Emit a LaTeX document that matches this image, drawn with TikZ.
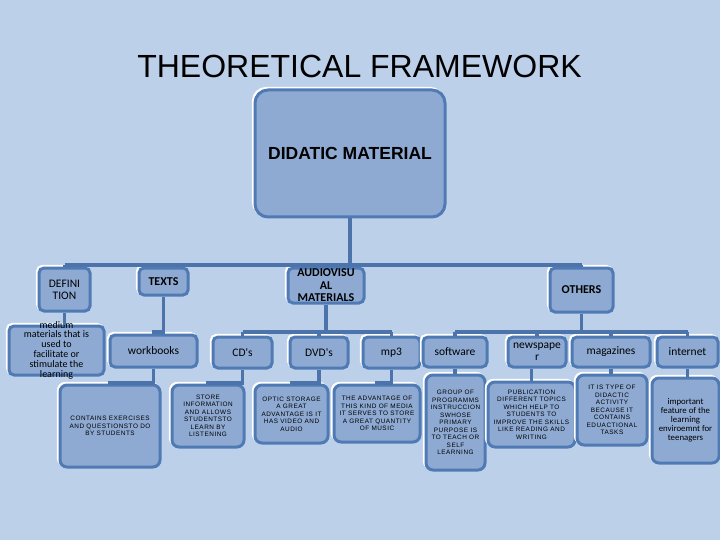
\documentclass[tikz,border=0pt]{standalone}
\usepackage{fontspec}
\setmainfont{Liberation Sans}
\newfontfamily\calfont{Carlito}
\newfontfamily\capsfont[LetterSpace=8]{Liberation Sans}

\definecolor{bgblue}{RGB}{188,208,234}
\definecolor{boxblue}{RGB}{142,170,211}
\definecolor{edgeblue}{RGB}{80,122,180}
\definecolor{linkblue}{RGB}{76,115,170}

\tikzset{
  box/.style={rectangle, rounded corners=5pt, draw=edgeblue, line width=3pt,
    fill=boxblue, inner sep=0pt, align=center,
    preaction={draw=white, line width=2.6pt, fill=none,
      transform canvas={xshift=-1.8pt, yshift=1.8pt}}},
  head/.style={box, font=\calfont\bfseries\fontsize{12}{12.5}\selectfont},
  item/.style={box, font=\calfont\fontsize{11.5}{12}\selectfont},
  caps/.style={box, rounded corners=7pt, font=\capsfont\fontsize{6.4}{7.5}\selectfont},
  note/.style={box, rounded corners=7pt, font=\calfont\fontsize{8.8}{9}\selectfont},
  link/.style={draw=linkblue, line width=3.3pt}
}

\begin{document}
\begin{tikzpicture}[x=1pt, y=-1pt]

  % --- fondo ---
  \fill[bgblue] (0,0) rectangle (720,540);
  \useasboundingbox (0,0) rectangle (720,540);

  % --- titolo ---
  \node[font=\fontsize{32}{32}\selectfont] (title) at (359.5,66) {THEORETICAL FRAMEWORK};

  % --- livelli delle barre ---
  \coordinate (lvA) at (0,265);
  \coordinate (lvB) at (0,332);
  \coordinate (lvC) at (0,383);

  % --- radice ---
  \node[box, rounded corners=13pt, minimum width=190pt, minimum height=127pt,
    font=\bfseries\fontsize{17.5}{20}\selectfont] (dm) at (350,153.5) {DIDATIC MATERIAL};

  % --- primo livello ---
  \node[item, minimum width=51pt, minimum height=43pt] (def) at (64.5,289.5) {DEFINI\\TION};
  \node[head, minimum width=49pt, minimum height=27pt] (txt) at (163.5,281.5) {TEXTS};
  \node[head, minimum width=76pt, minimum height=35pt] (av) at (326,285.5) {AUDIOVISU\\AL\\MATERIALS};
  \node[head, minimum width=63pt, minimum height=44pt] (oth) at (581.5,290) {OTHERS};

  % --- secondo livello ---
  \node[box, minimum width=81pt, minimum height=49pt, font=\calfont\fontsize{10}{9.8}\selectfont]
    (med) at (56.5,350.5)
    {\smash{\raisebox{-2pt}{\parbox[c]{95pt}{\centering medium\\materials that is\\used to\\facilitate or\\stimulate the\\learning}}}};
  \node[item, minimum width=87pt, minimum height=32pt] (wb) at (153.5,351) {workbooks};
  \node[item, minimum width=59pt, minimum height=31pt] (cd) at (242.5,352.5) {CD's};
  \node[item, minimum width=58pt, minimum height=31pt] (dvd) at (319,352.5) {DVD's};
  \node[item, minimum width=57pt, minimum height=31pt] (mp) at (391.5,352.5) {mp3};
  \node[item, minimum width=64pt, minimum height=30pt] (sw) at (455,352) {software};
  \node[item, minimum width=58pt, minimum height=30pt] (nws) at (537,352) {newspape\\r};
  \node[item, minimum width=78pt, minimum height=30pt] (mag) at (611,352) {magazines};
  \node[item, minimum width=61pt, minimum height=30pt] (int) at (687.5,352) {internet};

  % --- terzo livello ---
  \node[caps, minimum width=100pt, minimum height=82pt] (con) at (110,426)
    {CONTAINS EXERCISES\\AND QUESTIONSTO DO\\BY STUDENTS};
  \node[caps, minimum width=72pt, minimum height=62pt] (sto) at (208,416)
    {STORE\\INFORMATION\\AND ALLOWS\\STUDENTSTO\\LEARN BY\\LISTENING};
  \node[caps, minimum width=73pt, minimum height=58pt] (opt) at (291.5,414)
    {OPTIC STORAGE\\A GREAT\\ADVANTAGE IS IT\\HAS VIDEO AND\\AUDIO};
  \node[caps, minimum width=86pt, minimum height=57pt] (adv) at (377,413.5)
    {THE ADVANTAGE OF\\THIS KIND OF MEDIA\\IT SERVES TO STORE\\A GREAT QUANTITY\\OF MUSIC};
  \node[caps, minimum width=59pt, minimum height=95pt] (grp) at (455.5,422.5)
    {GROUP OF\\PROGRAMMS\\INSTRUCCION\\SWHOSE\\PRIMARY\\PURPOSE IS\\TO TEACH OR\\SELF\\LEARNING};
  \node[caps, minimum width=87pt, minimum height=65pt] (pub) at (531.5,414.5)
    {PUBLICATION\\DIFFERENT TOPICS\\WHICH HELP TO\\STUDENTS TO\\IMPROVE THE SKILLS\\LIKE READING AND\\WRITING};
  \node[caps, minimum width=70pt, minimum height=70pt] (its) at (612,410)
    {IT IS TYPE OF\\DIDACTIC\\ACTIVITY\\BECAUSE IT\\CONTAINS\\EDUACTIONAL\\TASKS};
  \node[note, minimum width=67pt, minimum height=85pt] (imp) at (685.5,420.5)
    {important\\feature of the\\learning\\enviroemnt for\\teenagers};

  % --- radice -> primo livello ---
  \draw[link] (dm.south) -- (dm.south |- lvA);
  \draw[link] (def.north |- lvA) -- (oth.north |- lvA);
  \foreach \n in {def, txt, av, oth}
    \draw[link] (\n.north |- lvA) -- (\n.north);

  % --- definizione ---
  \draw[link] (def.south) -- (def.south |- med.north);

  % --- testi ---
  \draw[link] (txt.south) -- (txt.south |- lvB) -- (wb.north |- lvB) -- (wb.north);
  \draw[link] (wb.south) -- (wb.south |- lvC) -- (con.north |- lvC) -- (con.north);

  % --- audiovisivi ---
  \draw[link] (av.south) -- (av.south |- lvB);
  \draw[link] (cd.north |- lvB) -- (mp.north |- lvB);
  \foreach \n in {cd, dvd, mp}
    \draw[link] (\n.north |- lvB) -- (\n.north);
  \draw[link] (cd.south) -- (cd.south |- lvC) -- (sto.north |- lvC) -- (sto.north);
  \draw[link] (dvd.south) -- (dvd.south |- lvC) -- (opt.north |- lvC) -- (opt.north);
  \draw[link] (mp.south) -- (mp.south |- lvC) -- (adv.north |- lvC) -- (adv.north);

  % --- altri ---
  \draw[link] (oth.south) -- (oth.south |- lvB);
  \draw[link] (sw.north |- lvB) -- (int.north |- lvB);
  \foreach \n in {sw, nws, mag, int}
    \draw[link] (\n.north |- lvB) -- (\n.north);
  \draw[link] (sw.south) -- (sw.south |- grp.north);
  \draw[link] (pub.north |- nws.south) -- (pub.north);
  \draw[link] (mag.south) -- (mag.south |- its.north);
  \draw[link] (int.south) -- (int.south |- imp.north);

\end{tikzpicture}
\end{document}
